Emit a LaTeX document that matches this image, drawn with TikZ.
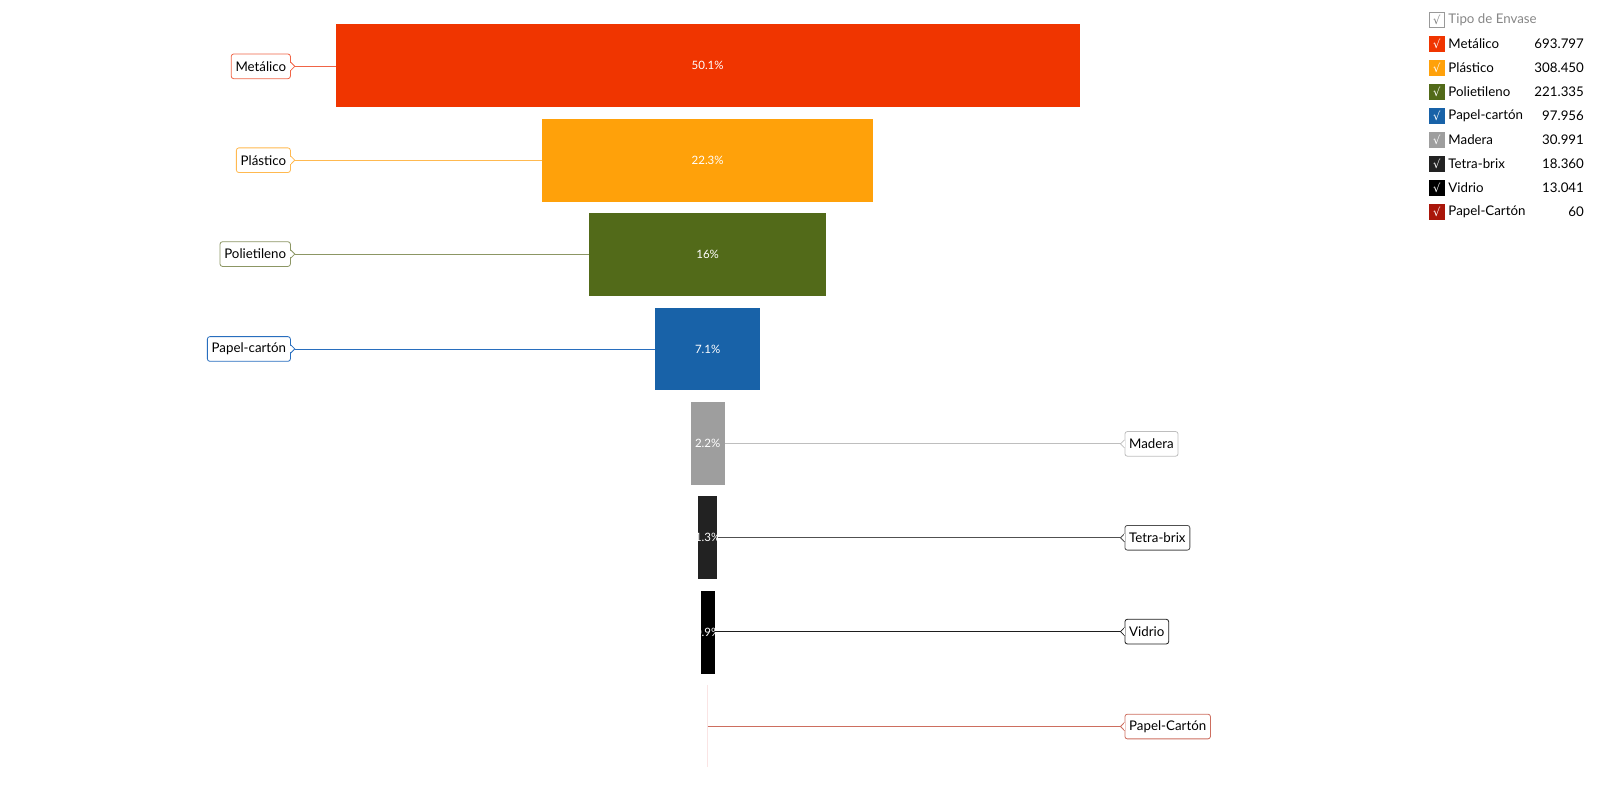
\documentclass[tikz,border=0pt]{standalone}
\usepackage{fontspec}
\setmainfont{Lato}
\newfontfamily\symfont{DejaVu Sans}
\definecolor{cMet}{RGB}{240,53,0}
\definecolor{cPla}{RGB}{255,161,10}
\definecolor{cPol}{RGB}{82,106,25}
\definecolor{cPap}{RGB}{24,98,168}
\definecolor{cMad}{RGB}{158,158,158}
\definecolor{cTet}{RGB}{34,34,34}
\definecolor{cVid}{RGB}{0,0,0}
\definecolor{cPC}{RGB}{170,22,10}
\definecolor{cPCbar}{RGB}{250,228,228}
\definecolor{lMet}{RGB}{240,100,70}
\definecolor{lPla}{RGB}{255,185,80}
\definecolor{lPol}{RGB}{140,150,100}
\definecolor{lPap}{RGB}{40,110,190}
\definecolor{lMad}{RGB}{190,190,190}
\definecolor{lTet}{RGB}{80,80,80}
\definecolor{lVid}{RGB}{30,30,30}
\definecolor{lPC}{RGB}{205,110,95}
\tikzset{
  bar/.style={inner sep=0pt, minimum height=82.7pt},
  bartext/.style={inner sep=0pt, text=white, font=\fontsize{11.5}{13}\selectfont},
  lab/.style={draw, fill=white, rounded corners=2.5pt, inner xsep=4.3pt, inner ysep=0pt, minimum height=24.7pt, text=black, font=\fontsize{13.3}{16}\selectfont, line width=0.8pt},
  conn/.style={line width=0.9pt},
  legbox/.style={minimum size=15.5pt, inner sep=0pt, text=white, font=\symfont\fontsize{11.5}{12}\selectfont},
  legtxt/.style={anchor=west, inner sep=0pt, font=\fontsize{13.3}{16}\selectfont},
  legval/.style={anchor=east, inner sep=0pt, font=\fontsize{13.3}{16}\selectfont},
}
\newcommand{\ptrR}[2]{% pointer on east side of label #1, colour #2
  \fill[white] ([yshift=4pt]#1.east) -- ++(4pt,-4pt) -- ++(-4pt,-4pt) -- cycle;
  \draw[#2, line width=0.8pt] ([yshift=4pt]#1.east) -- ++(4pt,-4pt) -- ++(-4pt,-4pt);
  \draw[white, line width=1.2pt] ([yshift=3.3pt,xshift=-0.3pt]#1.east) -- ([yshift=-3.3pt,xshift=-0.3pt]#1.east);}
\newcommand{\ptrL}[2]{% pointer on west side
  \fill[white] ([yshift=4pt]#1.west) -- ++(-4pt,-4pt) -- ++(4pt,-4pt) -- cycle;
  \draw[#2, line width=0.8pt] ([yshift=4pt]#1.west) -- ++(-4pt,-4pt) -- ++(4pt,-4pt);
  \draw[white, line width=1.2pt] ([yshift=3.3pt,xshift=0.3pt]#1.west) -- ([yshift=-3.3pt,xshift=0.3pt]#1.west);}
\begin{document}
\begin{tikzpicture}[x=1.0204pt,y=-1.0204pt]
\useasboundingbox (0,0) rectangle (1568,769.3);
% bars
\node[bar, fill=cMet, minimum width=743.9pt, label={[bartext]center:50.1\%}] (b1) at (693.5,64.5) {};
\node[bar, fill=cPla, minimum width=330.6pt, label={[bartext]center:22.3\%}] (b2) at (693.5,157.5) {};
\node[bar, fill=cPol, minimum width=236.7pt, label={[bartext]center:16\%}] (b3) at (693.5,249.5) {};
\node[bar, fill=cPap, minimum width=105.1pt, label={[bartext]center:7.1\%}] (b4) at (693.5,342) {};
\node[bar, fill=cMad, minimum width=33.7pt, label={[bartext]center:2.2\%}] (b5) at (693.5,434.5) {};
\node[bar, fill=cTet, minimum width=19.5pt, label={[bartext]center:1.3\%}] (b6) at (693.5,527) {};
\node[bar, fill=cVid, minimum width=14.2pt, label={[bartext]center:0.9\%}] (b7) at (693.5,619.5) {};
\node[bar, fill=cPCbar, minimum width=1pt] (b8) at (693.5,711.5) {};
% labels
\node[lab, draw=lMet, anchor=east] (l1) at (285,65) {Metálico};
\node[lab, draw=lPla, anchor=east] (l2) at (285,157) {Plástico};
\node[lab, draw=lPol, anchor=east] (l3) at (285,249) {Polietileno};
\node[lab, draw=lPap, anchor=east] (l4) at (285,342) {Papel-cartón};
\node[lab, draw=lMad, anchor=west] (l5) at (1102,435) {Madera};
\node[lab, draw=lTet, anchor=west] (l6) at (1102,527) {Tetra-brix};
\node[lab, draw=lVid, anchor=west] (l7) at (1102,619) {Vidrio};
\node[lab, draw=lPC, anchor=west] (l8) at (1102,712) {Papel-Cartón};
\ptrR{l1}{lMet}\ptrR{l2}{lPla}\ptrR{l3}{lPol}\ptrR{l4}{lPap}
\ptrL{l5}{lMad}\ptrL{l6}{lTet}\ptrL{l7}{lVid}\ptrL{l8}{lPC}
% connectors
\draw[conn, lMet] ([xshift=4pt]l1.east) -- (b1.west |- l1.east);
\draw[conn, lPla] ([xshift=4pt]l2.east) -- (b2.west |- l2.east);
\draw[conn, lPol] ([xshift=4pt]l3.east) -- (b3.west |- l3.east);
\draw[conn, lPap] ([xshift=4pt]l4.east) -- (b4.west |- l4.east);
\draw[conn, lMad] (b5.east |- l5.west) -- ([xshift=-4pt]l5.west);
\draw[conn, lTet] (b6.east |- l6.west) -- ([xshift=-4pt]l6.west);
\draw[conn, lVid] (b7.east |- l7.west) -- ([xshift=-4pt]l7.west);
\draw[conn, lPC] (b8.center |- l8.west) -- ([xshift=-4pt]l8.west);
% legend
\node[legbox, draw=gray!80, line width=0.6pt, text=gray, minimum size=14.5pt] (h0) at (1408,19.3) {√};
\node[legtxt, text=gray!95] (ht) at (1419.3,19.3) {Tipo de Envase};
\foreach \i/\c/\t/\v/\y in {1/cMet/Metálico/693.797/42.9, 2/cPla/Plástico/308.450/66.4, 3/cPol/Polietileno/221.335/90.0, 4/cPap/Papel-cartón/97.956/113.5, 5/cMad/Madera/30.991/137.0, 6/cTet/Tetra-brix/18.360/160.6, 7/cVid/Vidrio/13.041/184.1, 8/cPC/Papel-Cartón/60/207.6}{
  \node[legbox, fill=\c] (g\i) at (1408,\y) {√};
  \node[legtxt] (gt\i) at (1419.3,\y) {\t};
  \node[legval] (gv\i) at (1552.4,\y) {\v};
}
\end{tikzpicture}
\end{document}
